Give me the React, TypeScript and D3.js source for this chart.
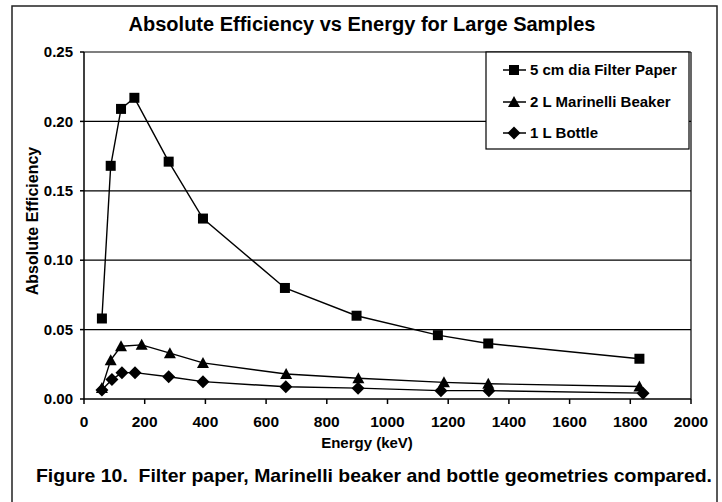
import * as d3 from 'd3';

// energies (keV) and absolute efficiencies
const filterEnergy = [59, 88, 122, 166, 279, 392, 662, 898, 1166, 1332, 1830];
const filterEff = [0.058, 0.168, 0.209, 0.217, 0.171, 0.13, 0.08, 0.06, 0.046, 0.04, 0.029];

const marinelliEnergy = [59, 88, 122, 190, 283, 392, 666, 904, 1186, 1332, 1830];
const marinelliEff = [0.008, 0.028, 0.038, 0.039, 0.033, 0.026, 0.018, 0.015, 0.012, 0.011, 0.009];

const bottleEnergy = [59, 92, 125, 168, 279, 392, 665, 903, 1176, 1334, 1842];
const bottleEff = [0.0065, 0.014, 0.019, 0.019, 0.016, 0.0125, 0.0088, 0.0078, 0.006, 0.006, 0.0042];

const xTicks = [0, 200, 400, 600, 800, 1000, 1200, 1400, 1600, 1800, 2000];
const yTicks = [0, 0.05, 0.1, 0.15, 0.2, 0.25];

const seriesNames = ['5 cm dia Filter Paper', '2 L Marinelli Beaker', '1 L Bottle'];

const WIDTH = 722;
const HEIGHT = 502;
const PLOT = { left: 84, right: 691, top: 52, bottom: 399 };
const FONT = '"Liberation Sans", Arial, Helvetica, sans-serif';

type Shape = 'square' | 'triangle' | 'diamond';

function Marker({ x, y, shape }: { x: number; y: number; shape: Shape }) {
    if (shape === 'square') {
        return <rect x={x - 5} y={y - 5} width={10} height={10} fill="#000" />;
    }
    if (shape === 'triangle') {
        return <path d={`M${x},${y - 6}L${x + 6},${y + 5}L${x - 6},${y + 5}Z`} fill="#000" />;
    }
    return <path d={`M${x},${y - 6.5}L${x + 6.5},${y}L${x},${y + 6.5}L${x - 6.5},${y}Z`} fill="#000" />;
}

export default function App() {
    const x = d3.scaleLinear().domain([0, 2000]).range([PLOT.left, PLOT.right]);
    const y = d3.scaleLinear().domain([0, 0.25]).range([PLOT.bottom, PLOT.top]);

    const series: { name: string; shape: Shape; pts: [number, number][] }[] = [
        { name: seriesNames[0], shape: 'square', pts: filterEnergy.map((e, i) => [e, filterEff[i]]) },
        { name: seriesNames[1], shape: 'triangle', pts: marinelliEnergy.map((e, i) => [e, marinelliEff[i]]) },
        { name: seriesNames[2], shape: 'diamond', pts: bottleEnergy.map((e, i) => [e, bottleEff[i]]) },
    ];

    const line = d3.line<[number, number]>()
        .x(d => x(d[0]))
        .y(d => y(d[1]));

    const legendRows = [70, 102, 133];

    return (
        <svg width={WIDTH} height={HEIGHT} style={{ position: 'absolute', left: 0, top: 0 }}
            fontFamily={FONT} fontWeight="bold">
            <rect x={0} y={0} width={WIDTH} height={HEIGHT} fill="#fff" />
            <rect x={12} y={6} width={705} height={520} fill="none" stroke="#222" strokeWidth={1.5} />

            <text x={362} y={31} textAnchor="middle" fontSize={20}>
                Absolute Efficiency vs Energy for Large Samples
            </text>

            {/* gridlines */}
            {yTicks.filter(t => t > 0).map(t => (
                <line key={t} x1={PLOT.left} x2={PLOT.right} y1={y(t)} y2={y(t)} stroke="#000" strokeWidth={1.2} />
            ))}
            <line x1={PLOT.right} x2={PLOT.right} y1={PLOT.top} y2={PLOT.bottom} stroke="#000" strokeWidth={1.2} />
            <line x1={PLOT.left} x2={PLOT.right} y1={PLOT.bottom} y2={PLOT.bottom} stroke="#000" strokeWidth={1.5} />
            <line x1={PLOT.left} x2={PLOT.left} y1={PLOT.top} y2={PLOT.bottom} stroke="#000" strokeWidth={1.5} />

            {/* y axis */}
            {yTicks.map(t => (
                <g key={t}>
                    <line x1={PLOT.left - 4} x2={PLOT.left} y1={y(t)} y2={y(t)} stroke="#000" strokeWidth={1.5} />
                    <text x={73} y={y(t)} dy="0.35em" textAnchor="end" fontSize={15}>{t.toFixed(2)}</text>
                </g>
            ))}
            <text transform={`translate(38, 221) rotate(-90)`} textAnchor="middle" fontSize={16}>
                Absolute Efficiency
            </text>

            {/* x axis */}
            {xTicks.map(t => (
                <g key={t}>
                    <line x1={x(t)} x2={x(t)} y1={PLOT.bottom} y2={PLOT.bottom + 5} stroke="#000" strokeWidth={1.5} />
                    <text x={x(t)} y={427} textAnchor="middle" fontSize={15.5}>{t}</text>
                </g>
            ))}
            <text x={367} y={448} textAnchor="middle" fontSize={15}>Energy (keV)</text>

            {/* series */}
            {series.map(s => (
                <g key={s.name}>
                    <path d={line(s.pts) || ''} fill="none" stroke="#000" strokeWidth={1.4} />
                    {s.pts.map((p, i) => <Marker key={i} x={x(p[0])} y={y(p[1])} shape={s.shape} />)}
                </g>
            ))}

            {/* legend */}
            <rect x={486} y={52} width={203} height={97} fill="#fff" stroke="#000" strokeWidth={1.2} />
            {series.map((s, i) => (
                <g key={s.name}>
                    <line x1={503} x2={526} y1={legendRows[i]} y2={legendRows[i]} stroke="#000" strokeWidth={1.5} />
                    <Marker x={514} y={legendRows[i]} shape={s.shape} />
                    <text x={530} y={legendRows[i]} dy="0.35em" fontSize={15}>{s.name}</text>
                </g>
            ))}

            <text x={36} y={482} fontSize={18.5} textLength={676} lengthAdjust="spacingAndGlyphs"
                style={{ whiteSpace: 'pre' }}>
                {'Figure 10.  Filter paper, Marinelli beaker and bottle geometries compared.'}
            </text>
        </svg>
    );
}
